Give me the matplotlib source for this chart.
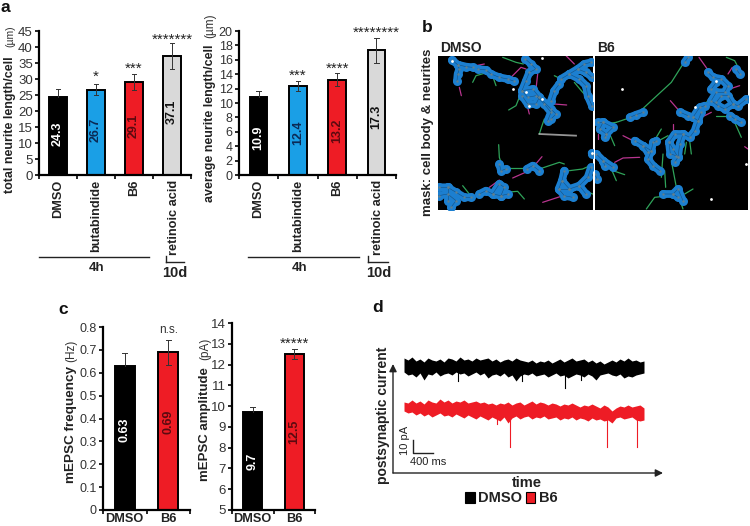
import matplotlib
matplotlib.use('Agg')
import matplotlib.pyplot as plt
import numpy as np
from matplotlib.patches import Rectangle
from matplotlib.transforms import ScaledTranslation

W, H = 750, 526
plt.rcParams['font.family'] = ['Liberation Sans', 'DejaVu Sans']

# panel a
treatments = ['DMSO', 'butabindide', 'B6', 'retinoic acid']
total_len = [24.3, 26.7, 29.1, 37.1]
total_err = [2.6, 1.6, 2.6, 4.1]
total_stars = ['', '*', '***', '*******']
avg_len = [10.9, 12.4, 13.2, 17.3]
avg_err = [0.7, 0.7, 0.9, 1.7]
avg_stars = ['', '***', '****', '********']
bar_colors = ['#000000', '#1a9fe6', '#ee1c25', '#d9d9d9']
text_colors = ['#ffffff', '#0b2a55', '#5a0a10', '#111111']

# panel c
groups = ['DMSO', 'B6']
freq = [0.63, 0.69]
freq_err = [0.055, 0.055]
amp = [9.7, 12.5]
amp_err = [0.25, 0.25]

# panel d, envelope of the traces read every 4 px from x=404
trace_x = list(range(404, 645, 4))
black_top = [358, 360, 357, 361, 359, 362, 358, 360, 361, 359, 362, 358, 359, 361, 357, 360,
             359, 361, 358, 360, 359, 358, 361, 359, 362, 360, 359, 361, 358, 360, 361, 362,
             360, 363, 361, 362, 360, 363, 361, 359, 362, 360, 358, 361, 360, 359, 362, 360,
             363, 361, 364, 362, 360, 362, 359, 361, 358, 361, 360, 362, 361]
black_bot = [372, 375, 374, 377, 373, 380, 374, 375, 372, 376, 374, 373, 375, 372, 374, 373,
             376, 374, 372, 375, 373, 378, 375, 374, 376, 373, 377, 375, 381, 376, 374, 375,
             373, 376, 375, 374, 377, 375, 373, 376, 375, 378, 376, 374, 375, 377, 374, 376,
             380, 375, 374, 373, 375, 376, 374, 378, 376, 377, 375, 374, 373]
red_top = [402, 403, 400, 403, 401, 404, 400, 402, 403, 399, 402, 400, 403, 401, 402, 400,
           403, 402, 401, 403, 402, 404, 403, 405, 403, 404, 402, 405, 403, 402, 405, 403,
           401, 404, 402, 403, 405, 403, 404, 406, 404, 405, 403, 405, 407, 405, 406, 404,
           406, 408, 405, 407, 411, 408, 406, 407, 405, 407, 406, 405, 408]
red_bot = [411, 413, 412, 415, 413, 416, 414, 417, 415, 413, 416, 415, 417, 414, 416, 418,
           415, 417, 419, 416, 418, 420, 417, 419, 421, 417, 423, 418, 416, 419, 417, 416,
           419, 417, 418, 416, 419, 418, 417, 420, 418, 419, 417, 420, 418, 419, 421, 418,
           420, 419, 421, 420, 423, 418, 417, 419, 418, 417, 420, 421, 420]
black_spike = [(565, 388), (458, 381), (522, 381), (581, 380)]
red_spike = [(510, 447), (607, 447), (637, 447), (497, 424)]

dmso_chains = [[(48, 18), (65, 32), (70, 45), (65, 60), (63, 80)], [(65, 32), (90, 38), (110, 40)],
               [(125, 45), (150, 48), (165, 60), (190, 70), (215, 75), (235, 82)],
               [(268, 15), (285, 30), (300, 45), (280, 55), (270, 80), (258, 110), (275, 130), (300, 125), (325, 150),
                (345, 175), (335, 200)],
               [(258, 110), (290, 105), (310, 130), (300, 150), (275, 150), (258, 125)],
               [(310, 130), (345, 165), (360, 180), (345, 195)], [(345, 140), (355, 110), (370, 90)],
               [(375, 75), (400, 60), (425, 45), (445, 30), (465, 25)],
               [(400, 60), (430, 75), (450, 95), (455, 125), (468, 155)], [(425, 45), (450, 55), (468, 70)],
               [(190, 330), (195, 350), (210, 345)], [(272, 345), (290, 335), (310, 350)],
               [(130, 420), (150, 410), (170, 420), (195, 425), (215, 420)],
               [(170, 420), (190, 390), (205, 400), (195, 425)],
               [(8, 400), (35, 400), (60, 415), (85, 430), (105, 430)], [(8, 425), (35, 420), (60, 440), (45, 460)],
               [(35, 400), (35, 440)], [(385, 350), (378, 380), (368, 405), (385, 425), (410, 430)],
               [(378, 380), (400, 405), (430, 395), (455, 370), (465, 340)], [(368, 405), (400, 405)],
               [(430, 395), (450, 420)], [(467, 297), (468, 299)]]
dmso_green = [[(110, 85), (120, 65), (145, 58)], [(180, 95), (172, 72), (160, 60)], [(200, 10), (240, 25), (262, 30)],
              [(218, 168), (240, 155), (250, 130)], [(310, 240), (318, 215), (325, 195)], [(188, 272), (190, 310), (200, 340)],
              [(215, 342), (270, 342)], [(310, 345), (370, 325), (385, 330)], [(400, 350), (440, 345), (462, 335)],
              [(205, 415), (245, 412), (265, 435)], [(415, 85), (440, 115), (455, 130)], [(355, 65), (385, 80), (400, 65)],
              [(80, 395), (100, 420)], [(445, 410), (470, 420)]]
dmso_pink = [[(75, 40), (120, 35), (145, 30)], [(70, 100), (76, 125)], [(225, 70), (255, 40), (270, 45)],
             [(305, 60), (300, 105)], [(275, 160), (280, 180)], [(355, 150), (392, 153)], [(230, 372), (275, 352)],
             [(295, 335), (318, 308)], [(160, 400), (190, 378)], [(320, 445), (372, 428)], [(390, 5), (415, 30)]]
dmso_white = [(47, 21), (318, 13), (230, 105), (270, 115), (318, 135), (278, 155), (467, 297)]

b6_chains = [[(285, 10), (275, 25)], [(110, 190), (130, 182), (150, 175)], [(262, 175), (285, 185)],
             [(300, 190), (320, 160), (335, 155)],
             [(300, 190), (315, 200), (305, 230), (290, 250), (270, 240), (245, 240), (228, 265), (240, 285), (255, 310),
              (245, 325)],
             [(270, 240), (260, 270), (255, 310)], [(228, 265), (232, 300), (250, 305)], [(315, 200), (325, 175)],
             [(345, 55), (360, 70), (385, 75), (405, 95), (395, 115), (370, 115), (355, 140), (375, 155), (395, 165),
              (420, 150), (405, 125), (385, 125), (370, 145)],
             [(370, 85), (355, 105)], [(420, 150), (435, 155), (460, 135)], [(430, 45), (440, 60)],
             [(412, 185), (425, 195), (445, 205)],
             [(15, 205), (30, 205), (60, 220), (40, 240), (20, 225), (30, 205)], [(40, 240), (35, 250)],
             [(125, 260), (150, 275), (175, 290), (165, 315), (180, 335), (200, 350)],
             [(175, 290), (180, 265), (190, 260)], [(150, 275), (165, 295)],
             [(10, 300), (30, 320), (60, 340)], [(30, 320), (35, 335)], [(5, 360), (12, 375)],
             [(210, 420), (240, 420), (255, 405), (270, 440)], [(240, 420), (255, 430)]]
b6_green = [[(270, 30), (235, 85), (170, 145), (130, 182)], [(70, 205), (120, 188)], [(48, 208), (70, 205)],
            [(50, 240), (65, 275)], [(55, 345), (70, 380)], [(60, 350), (95, 362)], [(190, 250), (205, 225)],
            [(170, 275), (225, 245)], [(210, 300), (205, 370)], [(235, 320), (250, 400)], [(215, 350), (218, 400)],
            [(230, 425), (185, 430), (160, 465)], [(260, 435), (270, 465)], [(275, 420), (300, 405)],
            [(280, 265), (275, 300)], [(290, 260), (295, 300)], [(370, 185), (420, 185)], [(425, 205), (445, 250)],
            [(400, 10), (425, 20), (438, 45)], [(335, 150), (360, 125)]]
b6_pink = [[(232, 140), (265, 178)], [(90, 245), (130, 265)], [(65, 325), (90, 312), (140, 310)], [(318, 10), (350, 55)],
           [(240, 210), (240, 240)], [(325, 190), (355, 175)], [(405, 60), (418, 40)], [(410, 105), (440, 95)],
           [(15, 240), (15, 255)], [(455, 278), (465, 285)]]
b6_white = [(368, 80), (458, 330), (355, 436), (305, 160), (88, 105)]

fig = plt.figure(figsize=(W / 100, H / 100), dpi=100)
over = fig.add_axes([0, 0, 1, 1], zorder=5)
over.set_xlim(0, W)
over.set_ylim(H, 0)
over.axis('off')
over.patch.set_alpha(0)


def pix_axes(x0, y0, x1, y1):
    return fig.add_axes([x0 / W, 1 - y1 / H, (x1 - x0) / W, (y1 - y0) / H])


def bars(box, vals, errs, colors, txt_cols, ymin, ymax, yticks, frac, names, rotate, ysize):
    ax = pix_axes(*box)
    pos = np.arange(len(vals)) + 0.5
    heights = [v - ymin for v in vals]
    ax.bar(pos, heights, bottom=ymin, width=0.45, color=colors, edgecolor='black', linewidth=1.4, zorder=2)
    for p, v, e, c in zip(pos, vals, errs, colors):
        lower = v - e if c != '#000000' else v
        ax.plot([p, p], [lower, v + e], color='#333333', lw=0.7, zorder=3)
        ax.plot([p - 0.06, p + 0.06], [v + e, v + e], color='#333333', lw=0.7, zorder=3)
        if c != '#000000':
            ax.plot([p - 0.06, p + 0.06], [lower, lower], color='#333333', lw=0.7, zorder=3)
    for p, v, tc in zip(pos, vals, txt_cols):
        lab = ('%.2f' % v) if v < 1 else ('%.1f' % v)
        ax.text(p, ymin + (v - ymin) * frac, lab, rotation=90, ha='center', va='center', color=tc,
                fontsize=9, fontweight='bold', zorder=4)
    ax.set_xlim(0, len(vals))
    ax.set_ylim(ymin, ymax)
    ax.set_yticks(yticks)
    ax.set_xticks(pos)
    ax.set_xticklabels(names, rotation=90 if rotate else 0, fontweight='bold', fontsize=9.2,
                       color='#222222')
    ax.set_xticks(np.arange(len(vals) + 1), minor=True)
    ax.tick_params(axis='x', which='major', length=0, pad=3.5 if rotate else 2)
    ax.tick_params(axis='x', which='minor', length=3, width=1.2, direction='out')
    ax.tick_params(axis='y', length=3, width=1.2, labelsize=ysize, pad=1.5, labelcolor='#333333')
    for s in ['top', 'right']:
        ax.spines[s].set_visible(False)
    for s in ['left', 'bottom']:
        ax.spines[s].set_linewidth(1.6)
    ax.patch.set_alpha(0)
    if rotate:
        last = ax.get_xticklabels()[-1]
        last.set_transform(last.get_transform() + ScaledTranslation(2 / 100, 0, fig.dpi_scale_trans))
    return ax, pos


def ylabel(x, y_bottom, y_top, bold, thin, size=9, thin_size=9):
    over.text(x, y_bottom, bold, rotation=90, ha='center', va='bottom', fontsize=size, fontweight='bold', color='#222222')
    over.text(x, y_top, thin, rotation=90, ha='center', va='top', fontsize=thin_size, color='#333333')


# a, left
ax, pos = bars((39, 31, 191, 175), total_len, total_err, bar_colors, text_colors, 0, 45, range(0, 46, 5), 0.53,
               treatments, True, 9.5)
star_gap = [0, 2.4, 1.4, 1.1]
for p, v, e, s, g in zip(pos, total_len, total_err, total_stars, star_gap):
    ax.text(p, v + e + g, s, ha='center', va='center', fontsize=11, color='#222222', clip_on=False)

# a, right
ax, pos = bars((239, 31, 396, 175), avg_len, avg_err, bar_colors, text_colors, 0, 20, range(0, 21, 2), 0.47,
               treatments, True, 9)
star_gap = [0, 0.7, 0.6, 0.7]
for p, v, e, s, g in zip(pos, avg_len, avg_err, avg_stars, star_gap):
    ax.text(p, v + e + g, s, ha='center', va='center', fontsize=11, color='#222222', clip_on=False)

ylabel(10, 193, 25, 'total neurite length/cell', '(\u00b5m)', thin_size=7.5)
ylabel(210, 202, 13, 'average neurite length/cell', '(\u00b5m)', thin_size=8.5)

for x0, x1, xt in [(39, 149, 97), (248, 359, 300)]:
    over.plot([x0, x1], [257, 257], color='#222222', lw=1)
    over.text(xt, 268, '4h', ha='center', va='center', fontsize=9.5, fontweight='bold', color='#222222')
for x0, x1, xt in [(166, 184, 175), (368, 388, 379)]:
    over.plot([x0, x1], [262, 262], color='#222222', lw=1)
    over.plot([x0, x0], [256, 262], color='#222222', lw=1)
    over.text(xt, 273, '10d', ha='center', va='center', fontsize=10.5, fontweight='bold', color='#222222')

# c
ax, pos = bars((103, 327, 190, 510), freq, freq_err, ['#000000', '#ee1c25'], ['#ffffff', '#5a0a10'], 0, 0.8,
               np.arange(0, 0.81, 0.1), 0.56, groups, False, 9)
ax.set_yticklabels(['0', '0.1', '0.2', '0.3', '0.4', '0.5', '0.6', '0.7', '0.8'])
ax.text(pos[1], 0.785, 'n.s.', ha='center', va='center', fontsize=8.5, color='#333333', clip_on=False)

ax, pos = bars((232, 323, 315, 510), amp, amp_err, ['#000000', '#ee1c25'], ['#ffffff', '#5a0a10'], 5, 14,
               range(5, 15), 0.5, groups, False, 9.5)
ax.text(pos[1], 13.0, '*****', ha='center', va='center', fontsize=11, color='#222222', clip_on=False)

ylabel(71, 483, 340, 'mEPSC frequency', '(Hz)', size=9.7, thin_size=8.5)
ylabel(205, 481, 338, 'mEPSC amplitude', '(pA)', size=9.5, thin_size=8.5)


# b
def micrograph(box, lims, chains, green, pink, white):
    ax = pix_axes(*box)
    ax.set_facecolor('black')
    ax.set_xlim(lims[0], lims[1])
    ax.set_ylim(lims[3], lims[2])
    ax.set_xticks([])
    ax.set_yticks([])
    for s in ax.spines.values():
        s.set_visible(False)
    for seg in green:
        ax.plot([p[0] for p in seg], [p[1] for p in seg], color='#2fa35a', lw=0.9, solid_capstyle='round')
    for seg in pink:
        ax.plot([p[0] for p in seg], [p[1] for p in seg], color='#b8358f', lw=0.9, solid_capstyle='round')
    for seg in chains:
        sx = [p[0] for p in seg]
        sy = [p[1] for p in seg]
        ax.plot(sx, sy, color='#1c7fd0', lw=5.6, solid_capstyle='round', solid_joinstyle='round', zorder=3)
        ax.scatter(sx, sy, s=42, color='#1c7fd0', linewidths=0, zorder=3)
    for seg in chains:
        sx = [p[0] for p in seg]
        sy = [p[1] for p in seg]
        ax.plot(sx, sy, color='#17507f', lw=0.4, zorder=4)
        ax.scatter(sx, sy, s=3, color='#5f7f90', linewidths=0, zorder=5)
    ax.scatter([p[0] for p in white], [p[1] for p in white], s=4, color='white', linewidths=0, zorder=6)
    return ax


ax = micrograph((438, 56, 593, 210), (6, 471, 6, 468), dmso_chains, dmso_green, dmso_pink, dmso_white)
ax.plot([310, 420], [240, 245], color='#bbbbbb', lw=1.3, alpha=0.8)
micrograph((595, 56, 748, 210), (6, 465, 6, 468), b6_chains, b6_green, b6_pink, b6_white)
over.text(440, 48, 'DMSO', ha='left', va='center', fontsize=10, fontweight='bold', color='#222222')
over.text(597, 48, 'B6', ha='left', va='center', fontsize=10, fontweight='bold', color='#222222')
over.text(428, 132, 'mask: cell body & neurites', rotation=90, ha='center', va='center', fontsize=9.5,
          fontweight='bold', color='#222222')

# d
over.fill_between(trace_x, black_top, black_bot, color='black', lw=0)
over.fill_between(trace_x, red_top, red_bot, color='#ee1c25', lw=0)
for x, y in black_spike:
    over.plot([x, x], [372, y], color='black', lw=0.8)
for x, y in red_spike:
    over.plot([x, x], [415, y], color='#ee1c25', lw=0.8)
arrow = dict(arrowstyle='-|>', color='#222222', lw=1, shrinkA=0, shrinkB=0, mutation_scale=11)
over.annotate('', xy=(393, 364), xytext=(393, 473), arrowprops=arrow)
over.annotate('', xy=(663, 473), xytext=(393, 473), arrowprops=arrow)
over.plot([413, 413, 433], [440, 453, 453], color='#222222', lw=1)
over.text(405, 440, '10 pA', rotation=90, ha='center', va='center', fontsize=8, color='#222222')
over.text(428, 462, '400 ms', ha='center', va='center', fontsize=8, color='#222222')
over.text(383, 415, 'postsynaptic current', rotation=90, ha='center', va='center', fontsize=10, fontweight='bold', color='#222222')
over.text(527, 483, 'time', ha='center', va='center', fontsize=10.5, fontweight='bold', color='#222222')
over.add_patch(Rectangle((465, 492), 10, 11, facecolor='black', edgecolor='black', lw=0.8))
over.add_patch(Rectangle((526, 492), 9, 11, facecolor='#ee1c25', edgecolor='black', lw=0.8))
over.text(478, 497.5, 'DMSO', ha='left', va='center', fontsize=10.5, fontweight='bold', color='#222222')
over.text(539, 497.5, 'B6', ha='left', va='center', fontsize=10.5, fontweight='bold', color='#222222')

# panel letters
for txt, x, y in [('a', 5, 7), ('b', 427, 27), ('c', 63, 310), ('d', 378, 308)]:
    over.text(x, y, txt, ha='center', va='center', fontsize=12.5, fontweight='bold', color='#111111')

fig.savefig('out.png', dpi=100)
